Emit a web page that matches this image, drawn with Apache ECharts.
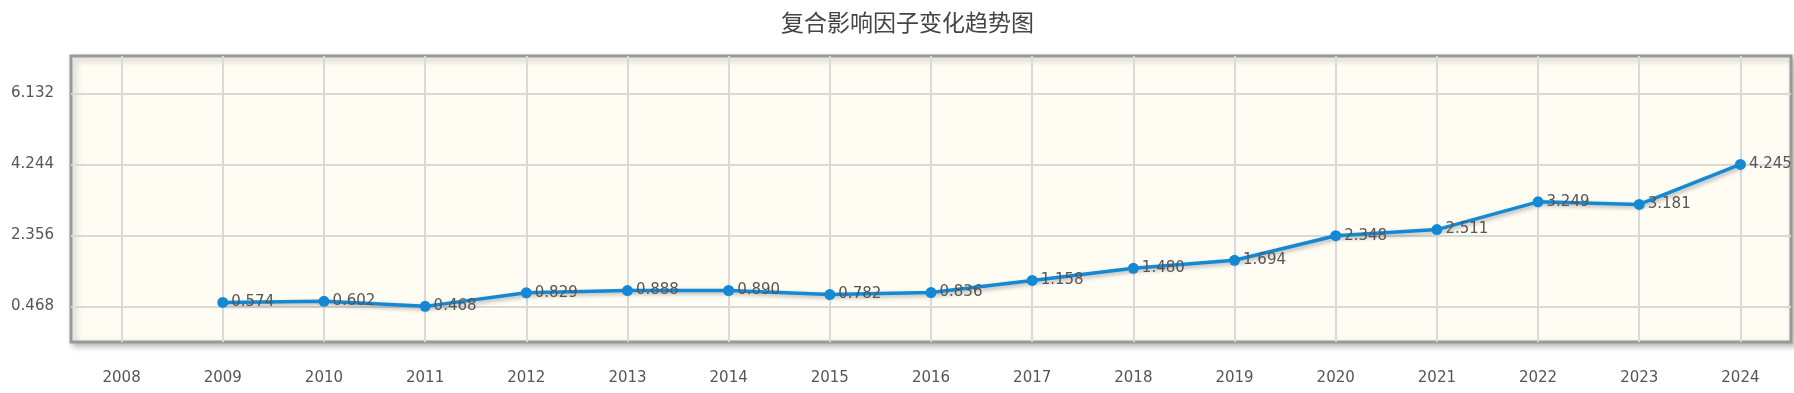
<!DOCTYPE html>
<html>
<head>
<meta charset="utf-8">
<script src="https://cdn.jsdelivr.net/npm/echarts@6/dist/echarts.min.js"></script>
<style>
html,body{margin:0;padding:0;background:#fff;}
#main{width:1794px;height:393px;}
</style>
</head>
<body>
<div id="main"></div>
<script>
const titleText = '复合影响因子变化趋势图';
const years = ['2008','2009','2010','2011','2012','2013','2014','2015','2016','2017','2018','2019','2020','2021','2022','2023','2024'];
const values = [null,0.574,0.602,0.468,0.829,0.888,0.890,0.782,0.836,1.158,1.480,1.694,2.348,2.511,3.249,3.181,4.245];
const yTicks = [0.468,2.356,4.244,6.132];

const chart = echarts.init(document.getElementById('main'), null, {renderer:'canvas'});
const txt = '#555';
chart.setOption({
  animation:false,
  backgroundColor:'#ffffff',
  title:{
    text:titleText, left:776, top:6,
    textStyle:{fontFamily:'Noto Sans CJK SC', fontSize:23, fontWeight:'normal', color:'#444'}
  },
  grid:{
    left:71, right:3, top:56, bottom:51,
    show:true, backgroundColor:'#fffcf4', borderColor:'#999', borderWidth:3,
    shadowColor:'rgba(0,0,0,0.25)', shadowBlur:6, shadowOffsetX:3, shadowOffsetY:3
  },
  xAxis:{
    type:'category', data:years, boundaryGap:true,
    axisLine:{show:false}, axisTick:{show:false, alignWithLabel:true},
    axisLabel:{color:txt, fontFamily:'DejaVu Sans', fontSize:15, margin:29},
    splitLine:{show:true, alignWithLabel:true, lineStyle:{color:'#d9d9d9', width:2}}
  },
  yAxis:{
    type:'value', min:-0.48, max:7.13,
    axisLine:{show:false},
    axisTick:{show:false, customValues:yTicks},
    axisLabel:{color:txt, fontFamily:'DejaVu Sans', fontSize:15, margin:17, customValues:yTicks,
      formatter:v=>v.toFixed(3)},
    splitLine:{show:true, lineStyle:{color:'#d9d9d9', width:2}}
  },
  series:[{
    type:'line', data:values, connectNulls:false,
    symbol:'circle', symbolSize:11,
    itemStyle:{color:'#1389d4'},
    lineStyle:{color:'#1389d4', width:3.5, shadowColor:'rgba(0,0,0,0.3)', shadowBlur:4, shadowOffsetX:2, shadowOffsetY:2},
    label:{show:true, position:'right', distance:3, color:txt, fontFamily:'DejaVu Sans', fontSize:15,
      formatter:p=>p.value==null?'':p.value.toFixed(3)}
  }]
});
</script>
</body>
</html>
